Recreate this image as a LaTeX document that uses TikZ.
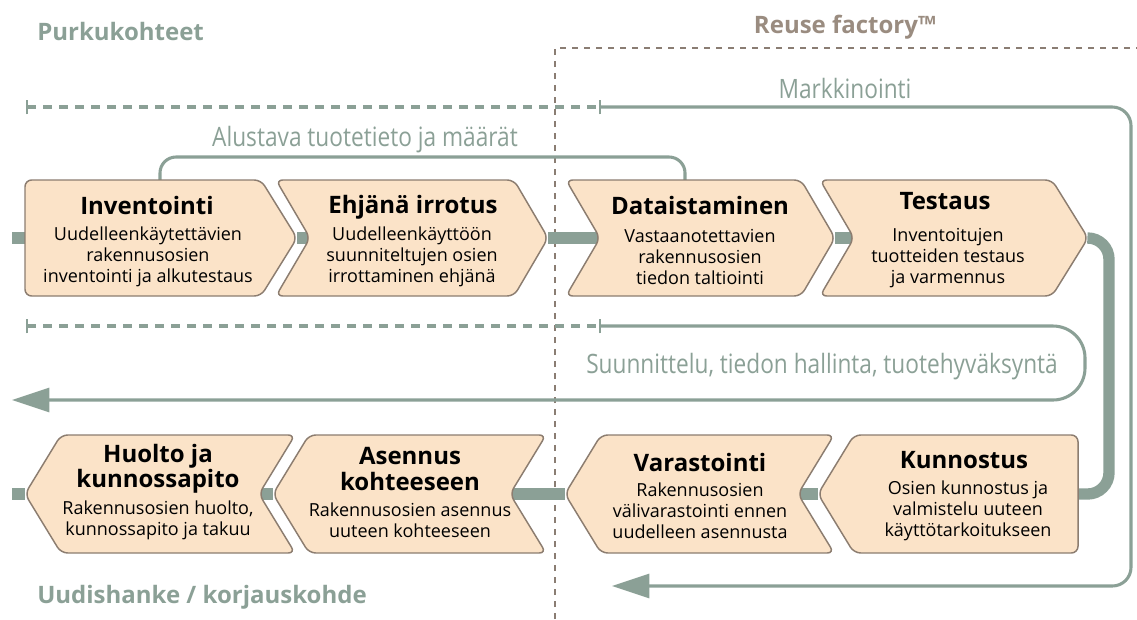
\documentclass[tikz,border=0pt]{standalone}
\usepackage{fontspec}
\setmainfont{Open Sans}
\newfontfamily\condfont[FakeStretch=0.85]{Open Sans}
\usetikzlibrary{arrows.meta}
\definecolor{boxfill}{HTML}{FBE3C8}
\definecolor{boxline}{HTML}{8C7D70}
\definecolor{sage}{HTML}{8BA096}
\definecolor{taupe}{HTML}{8A7D73}
\definecolor{taupetext}{HTML}{9A8C80}
\tikzset{
  stepbox/.style={draw=boxline, fill=boxfill, line width=1.1pt, rounded corners=5pt},
  ttl/.style={font=\fontsize{18}{19}\selectfont\bfseries, align=center, inner sep=0pt},
  body/.style={font=\fontsize{13.5}{15.9}\selectfont, align=center, inner sep=0pt},
  flow/.style={draw=sage, line width=8.5pt},
  thinflow/.style={draw=sage, line width=2.3pt},
  dashflow/.style={draw=sage, line width=2.4pt, dash pattern=on 7pt off 5pt},
  tick/.style={draw=sage, line width=1.3pt},
  sidelabel/.style={text=sage, font=\condfont\fontsize{20}{24}\selectfont, inner sep=0pt},
  zone/.style={font=\fontsize{18}{21}\selectfont\bfseries, inner sep=0pt},
  bigarrow/.style={-{Triangle[length=28pt,width=18pt]}},
}
\begin{document}
\begin{tikzpicture}[x=0.75pt,y=-0.75pt]
\useasboundingbox (0,0) rectangle (1137,619);

% zone titles
\node[zone, text=sage, anchor=base west] (zpurku) at (37,40) {Purkukohteet};
\node[zone, text=taupetext, anchor=base] (zreuse) at (845,33) {Reuse factory™};
\node[zone, text=sage, anchor=base west] (zuudis) at (37,603) {Uudishanke / korjauskohde};

% Reuse factory border
\coordinate (rf-bottom) at (555,619);
\coordinate (rf-corner) at (555,48);
\coordinate (rf-right) at (1137,48);
\draw[taupe, line width=1.6pt, dash pattern=on 4.5pt off 4.5pt] (rf-bottom) -- (rf-corner) -- (rf-right);

% chevron anchor points
\coordinate (flow-start) at (12,238);
\coordinate (inv-in) at (25,238);   \coordinate (inv-out) at (297,238);
\coordinate (ehj-in) at (310,238);  \coordinate (ehj-out) at (548,238);
\coordinate (dat-in) at (600,238);  \coordinate (dat-out) at (835,238);
\coordinate (tes-in) at (854,238);  \coordinate (tes-out) at (1088,238);
\coordinate (kun-in) at (1078,494); \coordinate (kun-out) at (818,494);
\coordinate (var-in) at (798,494);  \coordinate (var-out) at (565,494);
\coordinate (ase-in) at (510,494);  \coordinate (ase-out) at (273,494);
\coordinate (huo-in) at (259,494);  \coordinate (huo-out) at (25,494);
\coordinate (flow-end) at (12,494);

% main process flow
\draw[flow] (flow-start) -- (inv-in);
\draw[flow] (inv-out) -- (ehj-in);
\draw[flow] (ehj-out) -- (dat-in);
\draw[flow] (dat-out) -- (tes-in);
\draw[flow, rounded corners=16pt] (tes-out) -- (1109,238) -- (1109,494) -- (kun-in);
\draw[flow] (kun-out) -- (var-in);
\draw[flow] (var-out) -- (ase-in);
\draw[flow] (ase-out) -- (huo-in);
\draw[flow] (huo-out) -- (flow-end);

% feedback: preliminary product data
\coordinate (alu-a) at (160,180);
\coordinate (alu-b) at (685,180);
\draw[thinflow, rounded corners=12pt] (alu-a) -- (160,157) -- (685,157) -- (alu-b);
\node[sidelabel, anchor=base] (alu-l) at (365,146) {Alustava tuotetieto ja määrät};

% marketing loop
\coordinate (mk-a) at (27,107);
\coordinate (mk-b) at (600,107);
\coordinate (mk-end) at (612,586);
\draw[dashflow] (mk-a) -- (mk-b);
\draw[tick] ([yshift=-5.5pt]mk-a) -- ([yshift=5.5pt]mk-a);
\draw[tick] ([yshift=-5.5pt]mk-b) -- ([yshift=5.5pt]mk-b);
\draw[thinflow, bigarrow, rounded corners=14pt] (mk-b) -- (1131,107) -- (1131,586) -- (mk-end);
\node[sidelabel, anchor=base] (mk-l) at (845,98) {Markkinointi};

% design / data management loop
\coordinate (sn-a) at (27,326);
\coordinate (sn-b) at (600,326);
\coordinate (sn-end) at (12,400);
\draw[dashflow] (sn-a) -- (sn-b);
\draw[tick] ([yshift=-5.5pt]sn-a) -- ([yshift=5.5pt]sn-a);
\draw[tick] ([yshift=-5.5pt]sn-b) -- ([yshift=5.5pt]sn-b);
\draw[thinflow, bigarrow, rounded corners=24pt] (sn-b) -- (1085,326) -- (1085,400) -- (sn-end);
\node[sidelabel, anchor=base] (sn-l) at (822,373) {Suunnittelu, tiedon hallinta, tuotehyväksyntä};

% top row steps
\draw[stepbox] (25,180) -- (261,180) -- (inv-out) -- (261,296) -- (25,296) -- cycle;
\draw[stepbox] (276,180) -- (514,180) -- (ehj-out) -- (514,296) -- (276,296) -- (ehj-in) -- cycle;
\draw[stepbox] (566,180) -- (801,180) -- (dat-out) -- (801,296) -- (566,296) -- (dat-in) -- cycle;
\draw[stepbox] (820,180) -- (1052,180) -- (tes-out) -- (1052,296) -- (820,296) -- (tes-in) -- cycle;

% bottom row steps
\draw[stepbox] (huo-out) -- (61,435) -- (295,435) -- (huo-in) -- (295,553) -- (61,553) -- cycle;
\draw[stepbox] (ase-out) -- (309,435) -- (546,435) -- (ase-in) -- (546,553) -- (309,553) -- cycle;
\draw[stepbox] (var-out) -- (601,435) -- (834,435) -- (var-in) -- (834,553) -- (601,553) -- cycle;
\draw[stepbox] (kun-out) -- (854,435) -- (1078,435) -- (kun-in) -- (1078,553) -- (854,553) -- cycle;

% step texts
\node[ttl] (inv-t) at (147,205) {Inventointi};
\node[body] (inv-b) at (148,257) {Uudelleenkäytettävien\\rakennusosien\\inventointi ja alkutestaus};
\node[ttl] (ehj-t) at (413,207) {Ehjänä irrotus};
\node[body] (ehj-b) at (412,257) {Uudelleenkäyttöön\\suunniteltujen osien\\irrottaminen ehjänä};
\node[ttl] (dat-t) at (700,205) {Dataistaminen};
\node[body] (dat-b) at (700,257) {Vastaanotettavien\\rakennusosien\\tiedon taltiointi};
\node[ttl] (tes-t) at (945,201) {Testaus};
\node[body] (tes-b) at (948,258) {Inventoitujen\\tuotteiden testaus\\ja varmennus};

\node[ttl] (huo-t) at (158,469) {Huolto ja\\kunnossapito};
\node[body] (huo-b) at (158,520) {Rakennusosien huolto,\\kunnossapito ja takuu};
\node[ttl] (ase-t) at (410,469) {Asennus\\kohteeseen};
\node[body] (ase-b) at (410,520) {Rakennusosien asennus\\uuteen kohteeseen};
\node[ttl] (var-t) at (700,462) {Varastointi};
\node[body] (var-b) at (700,511) {Rakennusosien\\välivarastointi ennen\\uudelleen asennusta};
\node[ttl] (kun-t) at (964,460) {Kunnostus};
\node[body] (kun-b) at (968,511) {Osien kunnostus ja\\valmistelu uuteen\\käyttötarkoitukseen};
\end{tikzpicture}
\end{document}
